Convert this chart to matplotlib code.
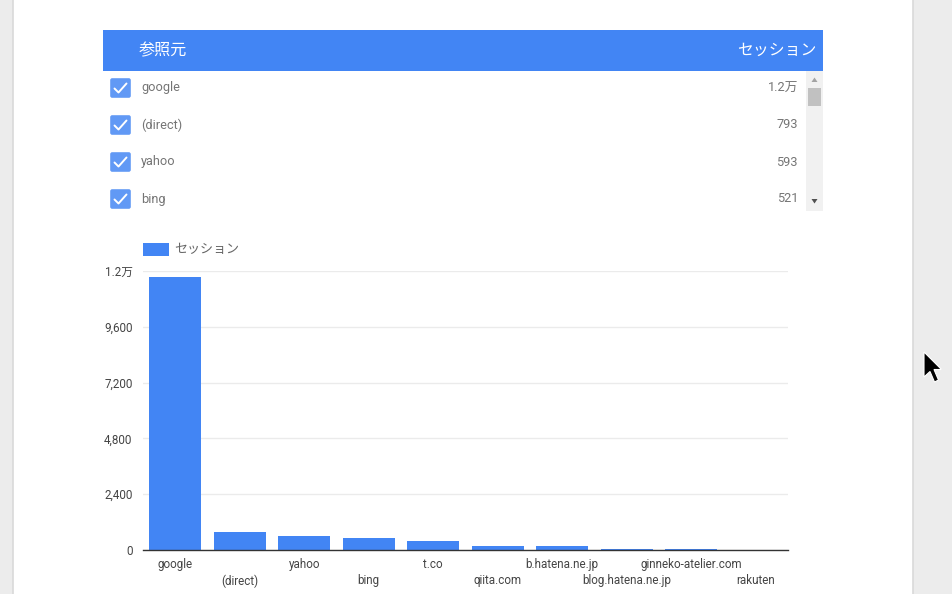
import matplotlib
matplotlib.use("Agg")
import matplotlib.pyplot as plt
from matplotlib.patches import Rectangle, Polygon, FancyBboxPatch
from matplotlib.ticker import FixedLocator, FixedFormatter

plt.rcParams['font.family'] = ['Roboto', 'Noto Sans CJK JP', 'DejaVu Sans']

# ---- data ----
sources = ["google", "(direct)", "yahoo", "bing", "t.co", "qiita.com",
           "b.hatena.ne.jp", "blog.hatena.ne.jp", "ginneko-atelier.com", "rakuten"]
sessions = [11750, 793, 593, 521, 390, 170, 165, 45, 25, 8]
table_sources = ["google", "(direct)", "yahoo", "bing"]
table_values = ["1.2万", "793", "593", "521"]
ytick_values = [0, 2400, 4800, 7200, 9600, 12000]
ytick_labels = ["0", "2,400", "4,800", "7,200", "9,600", "1.2万"]
header_left = "参照元"
header_right = "セッション"
legend_label = "セッション"

BLUE = "#4285f4"
W, H = 952, 594
fig = plt.figure(figsize=(W / 100, H / 100), dpi=100)
fig.patch.set_facecolor("#ececec")

# background/decoration layer in pixel coordinates
bg = fig.add_axes([0, 0, 1, 1])
bg.set_xlim(0, W)
bg.set_ylim(H, 0)
bg.axis("off")

# white panel
bg.add_patch(Rectangle((12.5, -1), 900.5, H + 2, facecolor="white",
                       edgecolor="#d9d9d9", linewidth=1.2))

# table header
bg.add_patch(Rectangle((103, 30), 720, 41, facecolor=BLUE, edgecolor="none"))
bg.text(139, 50.5, header_left, color="white", fontsize=11.6, va="center", ha="left")
bg.text(816, 50.5, header_right, color="white", fontsize=11.4, va="center", ha="right")

# scrollbar
bg.add_patch(Rectangle((806, 71), 17, 140, facecolor="#f1f1f1", edgecolor="none"))
bg.add_patch(Rectangle((808, 88), 13, 18, facecolor="#c1c1c1", edgecolor="none"))
bg.add_patch(Polygon([(811.5, 82), (817.5, 82), (814.5, 77.5)], closed=True,
                     facecolor="#a3a3a3", edgecolor="none"))
bg.add_patch(Polygon([(811.5, 199), (817.5, 199), (814.5, 203.5)], closed=True,
                     facecolor="#505050", edgecolor="none"))

# table rows
row_y0 = 88
row_step = 37
for i, (name, val) in enumerate(zip(table_sources, table_values)):
    y = row_y0 + i * row_step
    bg.add_patch(FancyBboxPatch((111, y - 9), 19, 18,
                                boxstyle="round,pad=0.8,rounding_size=2",
                                facecolor="#6199f5", edgecolor="none"))
    bg.plot([114.5, 118.5, 126.5], [y + 0.5, y + 4.5, y - 4.5], color="white",
            linewidth=1.4, solid_capstyle="round", solid_joinstyle="round")
    bg.text(141, y, name, color="#757575", fontsize=9.2, va="center", ha="left")
    bg.text(798, y, val, color="#757575", fontsize=9.2, va="center", ha="right")

# legend
bg.add_patch(Rectangle((143, 243), 26, 13, facecolor=BLUE, edgecolor="none"))
bg.text(174, 249.5, legend_label, color="#666666", fontsize=9.4, va="center", ha="left")

# mouse cursor
cur = [(924, 352), (924, 377), (930, 371.5), (934.5, 382), (938.5, 380),
       (934, 369.5), (941.5, 369.5)]
bg.add_patch(Polygon(cur, closed=True, facecolor="black", edgecolor="white",
                     linewidth=0.8))

# ---- bar chart ----
left, right, top, bottom = 143, 788, 271, 550
ax = fig.add_axes([left / W, (H - bottom) / H, (right - left) / W, (bottom - top) / H])
ax.set_facecolor("none")
x = list(range(len(sources)))
ax.bar(x, sessions, width=0.8, color=BLUE, zorder=3)
ax.set_xlim(-0.5, len(sources) - 0.5)
ax.set_ylim(0, 12000)
ax.yaxis.set_major_locator(FixedLocator(ytick_values))
ax.yaxis.set_major_formatter(FixedFormatter(ytick_labels))
ax.grid(axis="y", color="#ebebeb", linewidth=1, zorder=0)
for s in ["top", "right", "left"]:
    ax.spines[s].set_visible(False)
ax.spines["bottom"].set_color("#333333")
ax.spines["bottom"].set_linewidth(1)
ax.spines["bottom"].set_zorder(4)
ax.tick_params(axis="y", length=0, pad=7.5, labelsize=8.4, labelcolor="#444444")

# staggered category labels: even on major ticks, odd on minor ticks (lower row)
even_x = x[0::2]
odd_x = x[1::2]
ax.xaxis.set_major_locator(FixedLocator(even_x))
ax.xaxis.set_major_formatter(FixedFormatter(sources[0::2]))
ax.xaxis.set_minor_locator(FixedLocator(odd_x))
ax.xaxis.set_minor_formatter(FixedFormatter(sources[1::2]))
ax.tick_params(axis="x", which="major", length=0, pad=6, labelsize=8.4,
               labelcolor="#444444")
ax.tick_params(axis="x", which="minor", length=0, pad=17.5, labelsize=8.4,
               labelcolor="#444444")

fig.savefig("out.png", dpi=100, facecolor=fig.get_facecolor())
